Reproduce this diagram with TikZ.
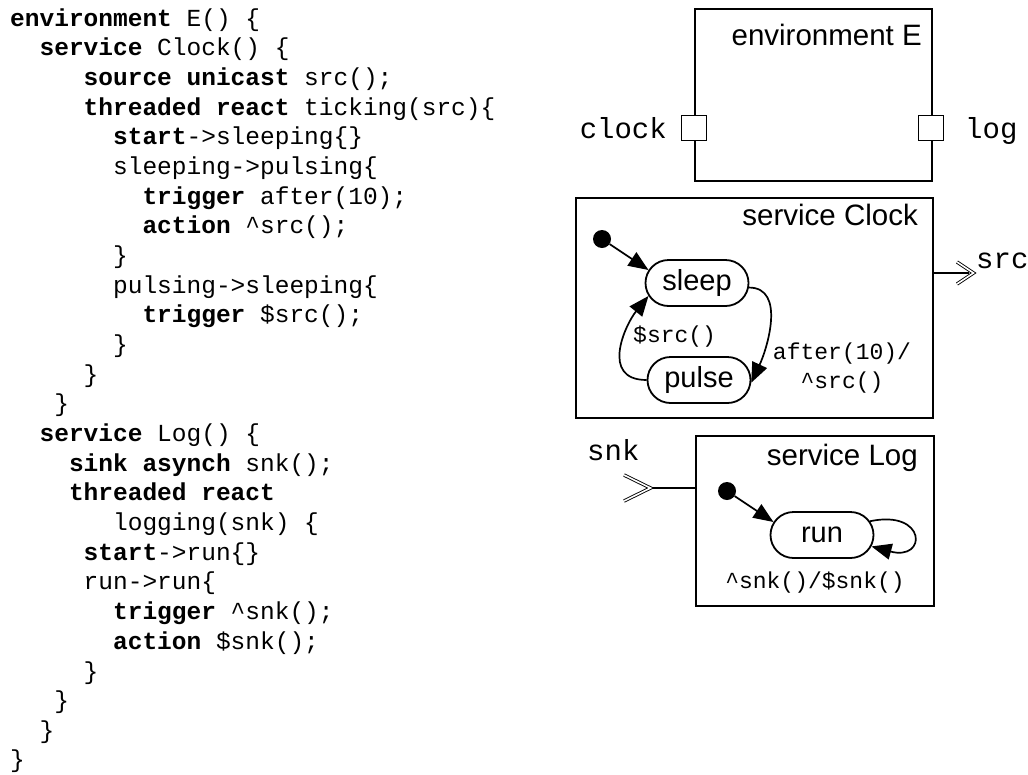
\documentclass[tikz,border=0pt]{standalone}
\usepackage{fontspec}
\setmainfont{Liberation Sans}
\newfontfamily\monofont{Liberation Mono}
\usetikzlibrary{arrows.meta,shapes.misc}
\tikzset{
  box/.style={draw, line width=1.8pt, inner sep=0pt, anchor=north west},
  state/.style={draw, line width=1.8pt, rounded rectangle, minimum width=103pt,
    minimum height=46pt, inner sep=0pt, font=\fontsize{29}{34}\selectfont},
  port/.style={draw, fill=white, line width=1.8pt, minimum size=25pt, inner sep=0pt},
  initdot/.style={circle, fill=black, minimum size=18pt, inner sep=0pt},
  arr/.style={line width=1.7pt, -{Triangle[length=20pt,width=16pt]}},
  plainline/.style={line width=1.7pt},
  chevron/.style={double, double distance=1.6pt, line width=0.9pt, line join=miter},
  sanslbl/.style={font=\fontsize{29.5}{34}\selectfont, inner sep=0pt},
  portlbl/.style={font=\monofont\fontsize{29}{34}\selectfont, inner sep=0pt},
  translbl/.style={font=\monofont\fontsize{23}{28}\selectfont, inner sep=0pt},
  codeline/.style={font=\monofont\fontsize{24.5}{30}\selectfont, anchor=base west, inner sep=0pt},
}
\begin{document}
\begin{tikzpicture}[x=1pt,y=1pt]
\useasboundingbox (0,0) rectangle (1028,-774);
% ---------------- code listing ----------------
\node[codeline] (l1)  at (10,-26)     {\textbf{environment} E() \{};
\node[codeline] (l2)  at (39.4,-55.7) {\textbf{service} Clock() \{};
\node[codeline] (l3)  at (83.5,-85.4) {\textbf{source unicast} src();};
\node[codeline] (l4)  at (83.5,-115)  {\textbf{threaded react} ticking(src)\{};
\node[codeline] (l5)  at (112.9,-144.7) {\textbf{start}->sleeping\{\}};
\node[codeline] (l6)  at (112.9,-174.4) {sleeping->pulsing\{};
\node[codeline] (l7)  at (142.3,-204.1) {\textbf{trigger} after(10);};
\node[codeline] (l8)  at (142.3,-233.8) {\textbf{action} \textasciicircum src();};
\node[codeline] (l9)  at (112.9,-263.4) {\}};
\node[codeline] (l10) at (112.9,-293.1) {pulsing->sleeping\{};
\node[codeline] (l11) at (142.3,-322.8) {\textbf{trigger} \$src();};
\node[codeline] (l12) at (112.9,-352.5) {\}};
\node[codeline] (l13) at (83.5,-382.2)  {\}};
\node[codeline] (l14) at (54.1,-411.8)  {\}};
\node[codeline] (l15) at (39.4,-441.5)  {\textbf{service} Log() \{};
\node[codeline] (l16) at (68.8,-471.2)  {\textbf{sink asynch} snk();};
\node[codeline] (l17) at (68.8,-500.9)  {\textbf{threaded react}};
\node[codeline] (l18) at (112.9,-530.6) {logging(snk) \{};
\node[codeline] (l19) at (83.5,-560.2)  {\textbf{start}->run\{\}};
\node[codeline] (l20) at (83.5,-589.9)  {run->run\{};
\node[codeline] (l21) at (112.9,-619.6) {\textbf{trigger} \textasciicircum snk();};
\node[codeline] (l22) at (112.9,-649.3) {\textbf{action} \$snk();};
\node[codeline] (l23) at (83.5,-679)    {\}};
\node[codeline] (l24) at (54.1,-708.6)  {\}};
\node[codeline] (l25) at (39.4,-738.3)  {\}};
\node[codeline] (l26) at (10,-767.5)    {\}};
% ---------------- environment E ----------------
\node[box, minimum width=237pt, minimum height=172pt] (envbox) at (694,-8) {};
\node[sanslbl, anchor=base east] (envlbl) at (922,-45) {environment E};
\node[port] (clockport) at (694,-128) {};
\node[port] (logport) at (931,-128) {};
\node[portlbl, anchor=base east] (clocklbl) at (667,-138) {clock};
\node[portlbl, anchor=base west] (loglbl) at (965,-138) {log};
% ---------------- service Clock ----------------
\node[box, minimum width=357pt, minimum height=220pt] (clockbox) at (575,-197) {};
\node[sanslbl, anchor=base east] (clocklbl2) at (918,-225) {service Clock};
\node[initdot] (dot1) at (602,-239) {};
\node[state] (sleep) at (697,-283) {sleep};
\node[state] (pulse) at (699,-380) {pulse};
\draw[arr] (dot1) -- (sleep.165);
\draw[arr] (sleep.-5) to[out=0,in=65] (pulse.-3);
\draw[arr] (pulse.west) .. controls (600,-380) and (625,-325) .. (sleep.195);
\node[translbl, anchor=base west] (srctrig) at (633,-342) {\$src()};
\node[translbl, anchor=base] (aftlbl) at (842,-359) {after(10)/};
\node[translbl, anchor=base] (srcact) at (842,-388) {\textasciicircum src()};
\coordinate (srctip) at (975,-273);
\draw[plainline] (clockbox.east |- srctip) -- ([xshift=-6pt]srctip);
\draw[chevron] ([xshift=-18pt,yshift=11pt]srctip) -- ([xshift=-1.5pt]srctip) -- ([xshift=-18pt,yshift=-11pt]srctip);
\node[portlbl, anchor=base west] (srclbl) at (976,-268) {src};
% ---------------- service Log ----------------
\node[box, minimum width=238pt, minimum height=170pt] (logbox) at (695,-435) {};
\node[sanslbl, anchor=base east] (loglbl2) at (918,-465) {service Log};
\coordinate (snktip) at (652,-488);
\draw[plainline] ([xshift=-4pt]snktip) -- (logbox.west |- snktip);
\draw[chevron] ([xshift=-28pt,yshift=13pt]snktip) -- ([xshift=-1.5pt]snktip) -- ([xshift=-28pt,yshift=-13pt]snktip);
\node[portlbl, anchor=base west] (snklbl) at (587,-460) {snk};
\node[initdot] (dot2) at (727,-491) {};
\node[state] (run) at (822,-535) {run};
\draw[arr] (dot2) -- (run.165);
\draw[arr] (run.16) .. controls +(12:58pt) and +(-15:58pt) .. (run.-13);
\node[translbl, anchor=base] (runlbl) at (815,-588) {\textasciicircum snk()/\$snk()};
\end{tikzpicture}
\end{document}
